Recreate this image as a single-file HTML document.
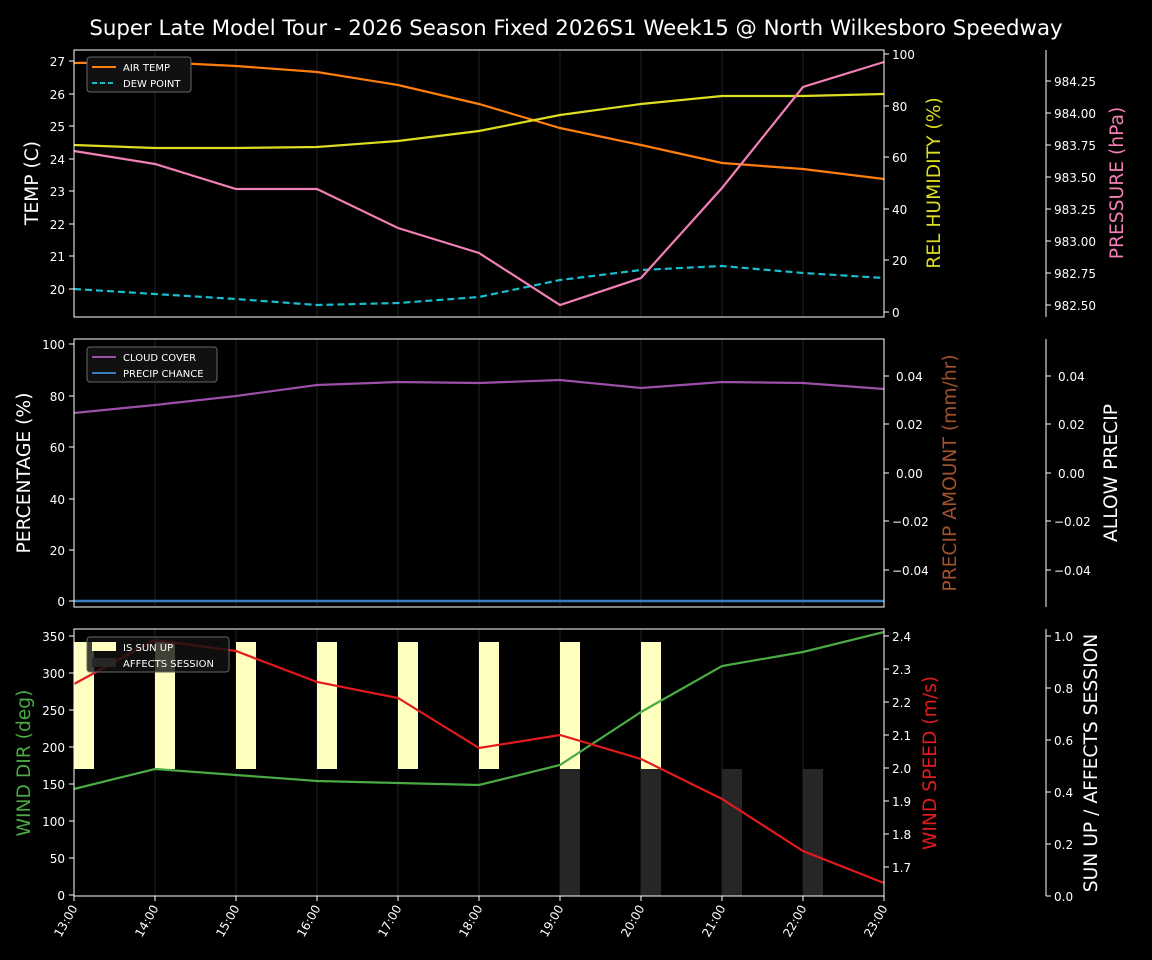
<!DOCTYPE html>
<html><head><meta charset="utf-8"><style>
html,body{margin:0;padding:0;background:#000;}
svg{display:block;font-family:"DejaVu Sans","Liberation Sans",sans-serif;}
</style></head><body>
<svg width="1152" height="960" viewBox="0 0 1152 960" xmlns="http://www.w3.org/2000/svg">
<rect width="1152" height="960" fill="#000"/>
<text x="576" y="35" fill="#fff" font-size="21.3" text-anchor="middle">Super Late Model Tour - 2026 Season Fixed 2026S1 Week15 @ North Wilkesboro Speedway</text>

<g stroke="#222" stroke-width="1">
<path d="M155 50V317M236 50V317M317 50V317M398 50V317M479 50V317M560 50V317M641 50V317M722 50V317M803 50V317"/>
<path d="M155 339V607M236 339V607M317 339V607M398 339V607M479 339V607M560 339V607M641 339V607M722 339V607M803 339V607"/>
<path d="M155 629V896M236 629V896M317 629V896M398 629V896M479 629V896M560 629V896M641 629V896M722 629V896M803 629V896"/>
</g>

<!-- Panel 1 -->
<g fill="none" stroke-width="2.2">
<polyline stroke="#ff7f0e" points="74,63 155,62 236,66 317,72 398,85 479,104 560,128 641,145 722,163 803,169 884,179"/>
<polyline stroke="#17becf" stroke-dasharray="7,4" points="74,289 155,294 236,299 317,305 398,303 479,297 560,280 641,270 722,266 803,273 884,278"/>
<polyline stroke="#dddd22" points="74,145 155,148 236,148 317,147 398,141 479,131 560,115 641,104 722,96 803,96 884,94"/>
<polyline stroke="#f27fb5" points="74,151 155,164 236,189 317,189 398,228 479,253 560,305 641,278 722,188 803,87 884,62"/>
</g>
<rect x="74" y="50" width="810" height="267" fill="none" stroke="#fff" stroke-width="1"/>
<g fill="#fff" font-size="12" text-anchor="end">
<text x="65" y="66">27</text><text x="65" y="99">26</text><text x="65" y="131">25</text><text x="65" y="164">24</text><text x="65" y="196">23</text><text x="65" y="229">22</text><text x="65" y="261">21</text><text x="65" y="294">20</text>
</g>
<g stroke="#fff"><path d="M69 61H74M69 94H74M69 126H74M69 159H74M69 191H74M69 224H74M69 256H74M69 289H74"/>
<path d="M884 54H889M884 106H889M884 157H889M884 209H889M884 260H889M884 312H889"/>
<path d="M1046 50V317M1046 81H1051M1046 113H1051M1046 145H1051M1046 177H1051M1046 209H1051M1046 241H1051M1046 273H1051M1046 305H1051"/></g>
<g fill="#fff" font-size="12">
<text x="892" y="59">100</text><text x="892" y="111">80</text><text x="892" y="162">60</text><text x="892" y="214">40</text><text x="892" y="265">20</text><text x="892" y="317">0</text>
<text x="1054" y="86">984.25</text><text x="1054" y="118">984.00</text><text x="1054" y="150">983.75</text><text x="1054" y="182">983.50</text><text x="1054" y="214">983.25</text><text x="1054" y="246">983.00</text><text x="1054" y="278">982.75</text><text x="1054" y="310">982.50</text>
</g>
<text transform="translate(38,183) rotate(-90)" fill="#fff" font-size="18.7" text-anchor="middle">TEMP (C)</text>
<text transform="translate(940,183) rotate(-90)" fill="#dddd22" font-size="18.7" text-anchor="middle">REL HUMIDITY (%)</text>
<text transform="translate(1123,183) rotate(-90)" fill="#f27fb5" font-size="18.7" text-anchor="middle">PRESSURE (hPa)</text>
<rect x="87" y="57" width="104" height="35" rx="3" fill="#111" stroke="#666"/>
<path d="M92 67H116" stroke="#ff7f0e" stroke-width="2"/><path d="M92 83H116" stroke="#17becf" stroke-width="2" stroke-dasharray="5,3"/>
<text x="123" y="71" fill="#fff" font-size="10">AIR TEMP</text><text x="123" y="87" fill="#fff" font-size="10">DEW POINT</text>

<!-- Panel 2 -->
<polyline fill="none" stroke="#9b4fa8" stroke-width="2.2" points="74,413 155,405 236,396 317,385 398,382 479,383 560,380 641,388 722,382 803,383 884,389"/>
<path d="M74 601H884" stroke="#3a7ebf" stroke-width="2.5"/>
<rect x="74" y="339" width="810" height="268" fill="none" stroke="#fff"/>
<g stroke="#fff"><path d="M69 344H74M69 396H74M69 447H74M69 499H74M69 550H74M69 601H74"/>
<path d="M884 376H889M884 424H889M884 473H889M884 521H889M884 570H889"/>
<path d="M1046 339V607M1046 376H1051M1046 424H1051M1046 473H1051M1046 521H1051M1046 570H1051"/></g>
<g fill="#fff" font-size="12" text-anchor="end">
<text x="65" y="349">100</text><text x="65" y="401">80</text><text x="65" y="452">60</text><text x="65" y="504">40</text><text x="65" y="555">20</text><text x="65" y="606">0</text></g>
<g fill="#fff" font-size="12">
<text x="896" y="381">0.04</text><text x="896" y="429">0.02</text><text x="896" y="478">0.00</text><text x="892" y="526">−0.02</text><text x="892" y="575">−0.04</text>
<text x="1058" y="381">0.04</text><text x="1058" y="429">0.02</text><text x="1058" y="478">0.00</text><text x="1054" y="526">−0.02</text><text x="1054" y="575">−0.04</text></g>
<text transform="translate(30,473) rotate(-90)" fill="#fff" font-size="18.7" text-anchor="middle">PERCENTAGE (%)</text>
<text transform="translate(956,473) rotate(-90)" fill="#a0522d" font-size="18.7" text-anchor="middle">PRECIP AMOUNT (mm/hr)</text>
<text transform="translate(1117,473) rotate(-90)" fill="#fff" font-size="18.7" text-anchor="middle">ALLOW PRECIP</text>
<rect x="87" y="347" width="130" height="35" rx="3" fill="#111" stroke="#666"/>
<path d="M92 357H116" stroke="#9b4fa8" stroke-width="2"/><path d="M92 373H116" stroke="#3a7ebf" stroke-width="2"/>
<text x="123" y="361" fill="#fff" font-size="10">CLOUD COVER</text><text x="123" y="377" fill="#fff" font-size="10">PRECIP CHANCE</text>

<!-- Panel 3 -->
<g fill="#ffffc0">
<rect x="74" y="642" width="20" height="127"/><rect x="155" y="642" width="20" height="127"/><rect x="236" y="642" width="20" height="127"/><rect x="317" y="642" width="20" height="127"/><rect x="398" y="642" width="20" height="127"/><rect x="479" y="642" width="20" height="127"/><rect x="560" y="642" width="20" height="127"/><rect x="641" y="642" width="20" height="127"/></g>
<g fill="#262626">
<rect x="560" y="769" width="20" height="127"/><rect x="641" y="769" width="20" height="127"/><rect x="722" y="769" width="20" height="127"/><rect x="803" y="769" width="20" height="127"/></g>
<g fill="none" stroke-width="2.2">
<polyline stroke="#4aab45" points="74,789 155,769 236,775 317,781 398,783 479,785 560,765 641,712 722,666 803,652 884,632"/>
<polyline stroke="#e31a1c" points="74,684 155,640 236,651 317,682 398,698 479,748 560,735 641,759 722,799 803,851 884,883"/>
</g>
<rect x="74" y="629" width="810" height="267" fill="none" stroke="#fff"/>
<g stroke="#fff"><path d="M69 636H74M69 673H74M69 710H74M69 747H74M69 784H74M69 821H74M69 858H74M69 895H74"/>
<path d="M884 636H889M884 669H889M884 702H889M884 735H889M884 768H889M884 801H889M884 834H889M884 867H889"/>
<path d="M1046 629V896M1046 636H1051M1046 688H1051M1046 740H1051M1046 792H1051M1046 844H1051M1046 896H1051"/>
<path d="M74 896V901M155 896V901M236 896V901M317 896V901M398 896V901M479 896V901M560 896V901M641 896V901M722 896V901M803 896V901M884 896V901"/></g>
<g fill="#fff" font-size="12" text-anchor="end">
<text x="65" y="641">350</text><text x="65" y="678">300</text><text x="65" y="715">250</text><text x="65" y="752">200</text><text x="65" y="789">150</text><text x="65" y="826">100</text><text x="65" y="863">50</text><text x="65" y="900">0</text></g>
<g fill="#fff" font-size="12">
<text x="892" y="641">2.4</text><text x="892" y="674">2.3</text><text x="892" y="707">2.2</text><text x="892" y="740">2.1</text><text x="892" y="773">2.0</text><text x="892" y="806">1.9</text><text x="892" y="839">1.8</text><text x="892" y="872">1.7</text>
<text x="1054" y="641">1.0</text><text x="1054" y="693">0.8</text><text x="1054" y="745">0.6</text><text x="1054" y="797">0.4</text><text x="1054" y="849">0.2</text><text x="1054" y="901">0.0</text></g>
<text transform="translate(30,763) rotate(-90)" fill="#4aab45" font-size="18.7" text-anchor="middle">WIND DIR (deg)</text>
<text transform="translate(936,763) rotate(-90)" fill="#e31a1c" font-size="18.7" text-anchor="middle">WIND SPEED (m/s)</text>
<text transform="translate(1097,763) rotate(-90)" fill="#fff" font-size="18.7" text-anchor="middle">SUN UP / AFFECTS SESSION</text>
<rect x="87" y="637" width="142" height="35" rx="3" fill="#111" fill-opacity="0.8" stroke="#666"/>
<rect x="92" y="642" width="24" height="9" fill="#ffffc0"/><rect x="92" y="658" width="24" height="9" fill="#262626"/>
<text x="123" y="651" fill="#fff" font-size="10">IS SUN UP</text><text x="123" y="667" fill="#fff" font-size="10">AFFECTS SESSION</text>

<g fill="#fff" font-size="12" text-anchor="end">
<text transform="translate(78,908) rotate(-60)">13:00</text><text transform="translate(159,908) rotate(-60)">14:00</text><text transform="translate(240,908) rotate(-60)">15:00</text><text transform="translate(321,908) rotate(-60)">16:00</text><text transform="translate(402,908) rotate(-60)">17:00</text><text transform="translate(483,908) rotate(-60)">18:00</text><text transform="translate(564,908) rotate(-60)">19:00</text><text transform="translate(645,908) rotate(-60)">20:00</text><text transform="translate(726,908) rotate(-60)">21:00</text><text transform="translate(807,908) rotate(-60)">22:00</text><text transform="translate(888,908) rotate(-60)">23:00</text>
</g>
</svg>
</body></html>
